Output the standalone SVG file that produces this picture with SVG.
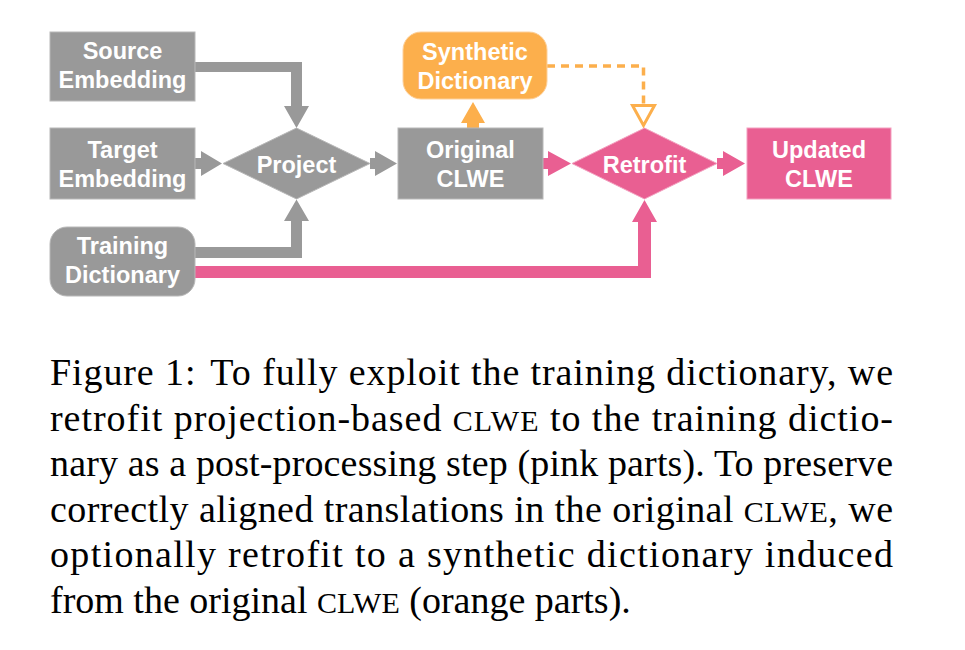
<svg xmlns="http://www.w3.org/2000/svg" width="965" height="650" viewBox="0 0 965 650">
<style>
.g{fill:#999999;stroke:#b8b8b8;stroke-width:1}
.p{fill:#E95F92;stroke:#f3a0bf;stroke-width:1}
.o{fill:#FCAF4C;stroke:#fdd09a;stroke-width:1}
.ga{fill:#999999}
.pa{fill:#E95F92}
.oa{fill:#FCAF4C}
.lbl{font-family:"Liberation Sans",Arial,sans-serif;font-weight:bold;font-size:23.5px;fill:#ffffff;text-anchor:middle}
.cap{font-family:"Liberation Serif","Times New Roman",serif;font-size:38px;fill:#000000}
.sc{font-size:30px}
</style>
<rect width="965" height="650" fill="#ffffff"/>
<g id="connectors">
<path class="ga" d="M195,62 H302 V106 H309 L296.5,128 L284,106 H291 V72 H195 Z"/>
<path class="ga" d="M195,158 H201 V151 L222,163.5 L201,176 V169 H195 Z"/>
<path class="ga" d="M195,247 H291 V221 H284 L296.5,199.5 L309,221 H302 V258 H195 Z"/>
<path class="ga" d="M370,158 H375 V151 L397,163.5 L375,176 V169 H370 Z"/>
<path class="oa" d="M467,128 V123 H461 L473,102 L485,123 H479 V128 Z"/>
<path class="pa" d="M543,158 H548 V151 L571,163.5 L548,176 V169 H543 Z"/>
<path class="pa" d="M717,158 H723 V151 L745,163.5 L723,176 V169 H717 Z"/>
<path class="pa" d="M195,266 H638 V222 H632 L644.5,200 L657,222 H651 V278 H195 Z"/>
<path d="M547,66 H643.5 V104" fill="none" stroke="#FCAF4C" stroke-width="3.5" stroke-dasharray="8 6"/>
<polygon points="632.5,105.5 654.5,105.5 643.5,125.5" fill="#ffffff" stroke="#FCAF4C" stroke-width="3"/>
</g>
<g id="source-embedding">
<rect class="g" x="50" y="32" width="145" height="69"/>
<text class="lbl" x="122.5" y="59">Source</text>
<text class="lbl" x="122.5" y="88">Embedding</text>
</g>
<g id="target-embedding">
<rect class="g" x="50" y="128" width="145" height="71"/>
<text class="lbl" x="122.5" y="157.5">Target</text>
<text class="lbl" x="122.5" y="187">Embedding</text>
</g>
<g id="training-dictionary">
<rect class="g" x="50" y="227" width="145" height="69" rx="17"/>
<text class="lbl" x="122.5" y="253.5">Training</text>
<text class="lbl" x="122.5" y="283">Dictionary</text>
</g>
<g id="project">
<polygon class="g" points="223,163.5 296.5,128 370,163.5 296.5,199"/>
<text class="lbl" x="296.5" y="173">Project</text>
</g>
<g id="original-clwe">
<rect class="g" x="398" y="128" width="145" height="71"/>
<text class="lbl" x="470.5" y="158">Original</text>
<text class="lbl" x="470.5" y="187">CLWE</text>
</g>
<g id="synthetic-dictionary">
<rect class="o" x="403" y="32" width="144" height="67" rx="18"/>
<text class="lbl" x="475" y="60">Synthetic</text>
<text class="lbl" x="475" y="89">Dictionary</text>
</g>
<g id="retrofit">
<polygon class="p" points="572,163.5 644.5,128 717,163.5 644.5,199"/>
<text class="lbl" x="644.5" y="173">Retrofit</text>
</g>
<g id="updated-clwe">
<rect class="p" x="747" y="128" width="144" height="71"/>
<text class="lbl" x="819" y="158">Updated</text>
<text class="lbl" x="819" y="187">CLWE</text>
</g>
<g id="caption">
<text class="cap" x="50" y="385" textLength="843" lengthAdjust="spacing">Figure 1:<tspan dx="14">To fully exploit the training dictionary, we</tspan></text>
<text class="cap" x="50" y="430.5" textLength="843" lengthAdjust="spacing">retrofit projection-based <tspan class="sc">CLWE</tspan> to the training dictio-</text>
<text class="cap" x="50" y="476" textLength="843" lengthAdjust="spacing">nary as a post-processing step (pink parts). To preserve</text>
<text class="cap" x="50" y="521.5" textLength="843" lengthAdjust="spacing">correctly aligned translations in the original <tspan class="sc">CLWE</tspan>, we</text>
<text class="cap" x="50" y="567" textLength="843" lengthAdjust="spacing">optionally retrofit to a synthetic dictionary induced</text>
<text class="cap" x="50" y="612.5">from the original <tspan class="sc">CLWE</tspan> (orange parts).</text>
</g>
</svg>
